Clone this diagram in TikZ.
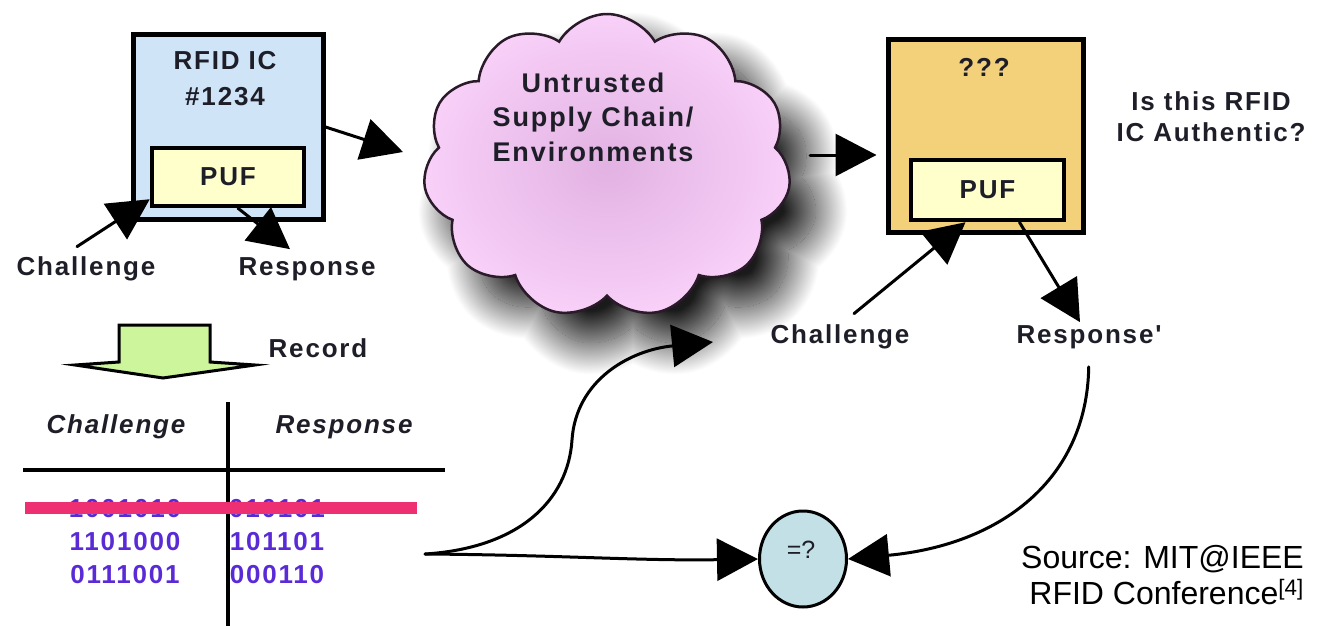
\documentclass[tikz,border=0pt]{standalone}
\usepackage{fontspec}
\setmainfont{Liberation Sans}
\newfontfamily\trackedsans[LetterSpace=7]{Liberation Sans}
\usetikzlibrary{arrows.meta,shapes.symbols,shapes.geometric,shadows.blur}

\definecolor{ink}{HTML}{1E1E28}
\definecolor{icblue}{HTML}{D0E4F7}
\definecolor{pufyellow}{HTML}{FFFFCC}
\definecolor{chipgold}{HTML}{F3D07A}
\definecolor{cloudedge}{HTML}{F8D0F8}
\definecolor{cloudcore}{HTML}{E2B2E2}
\definecolor{cloudline}{HTML}{2A1A2A}
\definecolor{cmpblue}{HTML}{C2E0E6}
\definecolor{recgreen}{HTML}{CDF59B}
\definecolor{bitviolet}{HTML}{5A2AD6}
\definecolor{strikepink}{HTML}{EE3072}

\begin{document}
\begin{tikzpicture}[x=1pt,y=-1pt,
  lbl/.style={font=\trackedsans\bfseries\fontsize{26}{31}\selectfont,
    text=ink, align=center, inner sep=0pt},
  bits/.style={lbl, text=bitviolet},
  chip/.style={draw=black, line width=5pt, inner sep=0pt},
  pufbox/.style={draw=black, line width=4.5pt, fill=pufyellow,
    minimum width=152pt, minimum height=58pt, inner sep=0pt, lbl},
  arr/.style={draw=black, line width=3pt, line cap=round,
    -{Triangle[length=41pt,width=42pt]}},
  rule/.style={draw=black, line width=4pt}]

\useasboundingbox (0,0) rectangle (1318,626);

% ---------- enrolled RFID chip ----------
\node[chip, fill=icblue, minimum width=190pt, minimum height=184pt] (ic) at (228,127) {};
\node[lbl, font=\trackedsans\bfseries\fontsize{26}{36}\selectfont] (icname) at (225,79) {RFID IC\\\#1234};
\node[pufbox] (puf1) at (228,177) {PUF};
\node[lbl] (ch1) at (86,269) {Challenge};
\node[lbl] (rs1) at (307,269) {Response};
\draw[arr] ([xshift=-9pt,yshift=10pt]ch1.north) -- ([yshift=9pt]puf1.south west);
\draw[arr] ([xshift=10pt]puf1.south) -- ([xshift=-17pt,yshift=8pt]rs1.north);

% ---------- untrusted supply chain ----------
\node[cloud, cloud puffs=11, cloud puff arc=120, cloud ignores aspect,
  minimum width=368pt, minimum height=304pt, draw=cloudline, line width=2.5pt,
  shade, inner color=cloudcore, outer color=cloudedge,
  blur shadow={shadow xshift=26pt, shadow yshift=-30pt,
    shadow blur radius=32pt, shadow blur steps=48, shadow opacity=90}] (cloud) at (607,166) {};
\node[lbl, font=\trackedsans\bfseries\fontsize{27}{34.5}\selectfont] (cloudtxt) at (593,117)
  {Untrusted\\Supply Chain/\\Environments};
\coordinate (cloudin) at (403,152);
\coordinate (cloudout) at (810,155);
\draw[arr] (ic.east) -- (cloudin);

% ---------- chip under test ----------
\node[chip, fill=chipgold, minimum width=195pt, minimum height=192pt] (ob) at (985.5,136) {};
\node[lbl] (unknown) at (984,67) {???};
\node[pufbox, minimum width=153pt, minimum height=60pt] (puf2) at (987.5,190) {PUF};
\node[lbl] (question) at (1211,117) {Is this RFID\\IC Authentic?};
\draw[arr, shorten >=9pt] (cloudout) -- (cloudout -| ob.west);
\node[lbl] (ch2) at (840,337) {Challenge};
\node[lbl] (rs2) at (1089,337) {Response'};
\draw[arr] ([xshift=14pt,yshift=11pt]ch2.north) -- ([xshift=-22pt]puf2.south);
\draw[arr] ([xshift=32pt]puf2.south) -- ([xshift=-9pt,yshift=3pt]rs2.north);

% ---------- record step ----------
\draw[line width=3pt, line join=miter, fill=recgreen]
  (119,325) -- (210,325) -- (210,362) -- (255,365) -- (163,378)
  -- (75,365) -- (119,362) -- cycle;
\node[lbl] (record) at (318,348) {Record};

% ---------- challenge/response table ----------
\draw[rule] (228,402) -- (228,626);
\draw[rule] (23,470) -- (445,470);
\node[lbl, font=\trackedsans\bfseries\itshape\fontsize{26}{31}\selectfont] (thc) at (116,427) {Challenge};
\node[lbl, font=\trackedsans\bfseries\itshape\fontsize{26}{31}\selectfont] (thr) at (344,427) {Response};
\node[bits] (c1) at (125,509) {1001010};
\node[bits] (r1) at (277,509) {010101};
\node[bits] (c2) at (125,542) {1101000};
\node[bits] (r2) at (277,542) {101101};
\node[bits] (c3) at (125,575) {0111001};
\node[bits] (r3) at (277,575) {000110};
\draw[strikepink, line width=12pt] (25,508) -- (417,508);

% ---------- comparison ----------
\node[ellipse, draw=black, line width=3pt, fill=cmpblue,
  minimum width=87pt, minimum height=96pt, inner sep=0pt] (eq) at (803,559) {};
\node[font=\fontsize{25}{30}\selectfont, text=ink, inner sep=0pt] (eqtxt) at (801,550) {=?};
\coordinate (fork) at (425,554);
\coordinate (chin) at (713,342);
\draw[arr] (fork) .. controls (560,555) and (640,561) .. (eq.west);
\draw[arr] (fork) .. controls (520,548) and (568,500) .. (572,440)
  .. controls (576,380) and (630,350) .. (chin);
\draw[arr, shorten <=18pt] (rs2.south) .. controls (1087,480) and (1000,545) .. (eq.east);

% ---------- source ----------
\node[font=\fontsize{32}{36}\selectfont, align=right, anchor=east, inner sep=0pt, text=black]
  (src) at (1304,575) {Source: MIT@IEEE\\RFID Conference\textsuperscript{[4]}};
\end{tikzpicture}
\end{document}
